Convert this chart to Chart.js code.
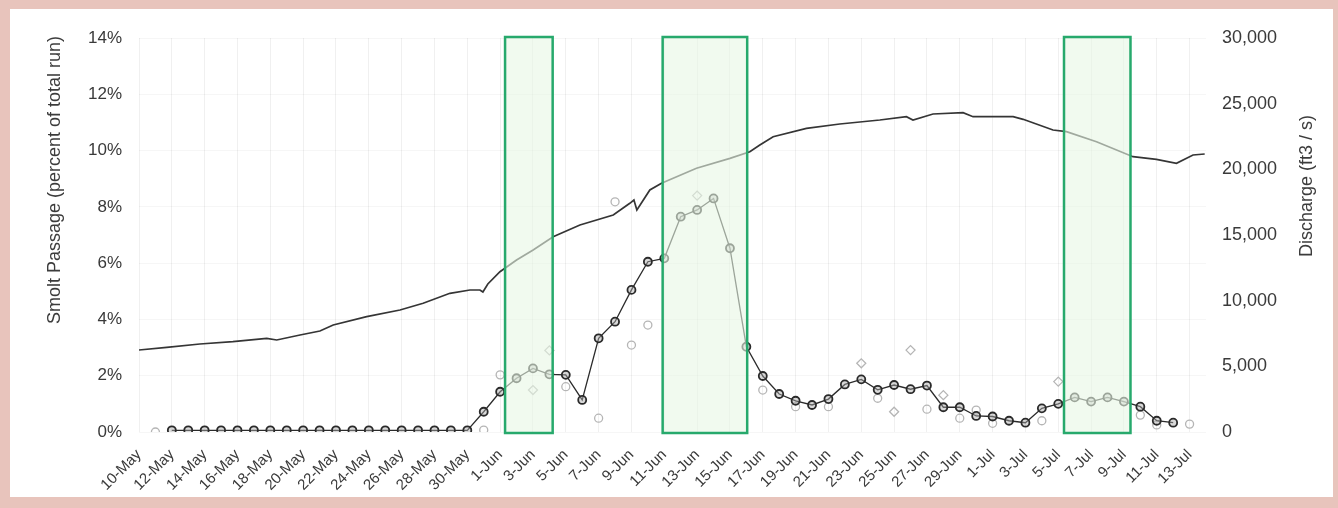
<!DOCTYPE html>
<html>
<head>
<meta charset="utf-8">
<script src="https://cdn.jsdelivr.net/npm/chart.js@4.4.1/dist/chart.umd.min.js"></script>
<style>
  html, body { margin: 0; padding: 0; background: #ffffff; }
  #wrap { width: 1338px; height: 508px; position: relative; }
</style>
</head>
<body>
<div id="wrap"><canvas id="chart" width="1338" height="508"></canvas></div>
<script>
// Season days are counted from 10-May (day 0) to 14-Jul (day 65).
const tickDays = [0,2,4,6,8,10,12,14,16,18,20,22,24,26,28,30,32,34,36,38,40,42,44,46,48,50,52,54,56,58,60,62,64];
const tickLabels = ['10-May','12-May','14-May','16-May','18-May','20-May','22-May','24-May','26-May','28-May','30-May',
  '1-Jun','3-Jun','5-Jun','7-Jun','9-Jun','11-Jun','13-Jun','15-Jun','17-Jun','19-Jun','21-Jun','23-Jun','25-Jun','27-Jun','29-Jun',
  '1-Jul','3-Jul','5-Jul','7-Jul','9-Jul','11-Jul','13-Jul'];

// Daily smolt passage (percent of total run), 12-May .. 12-Jul
const passageFirstDay = 2;
const passagePct = [0.06,0.06,0.06,0.06,0.06,0.06,0.06,0.06,0.06,0.06,0.06,0.06,0.06,0.06,0.06,0.06,0.06,0.06,0.06,
  0.72,1.43,1.91,2.26,2.05,2.03,1.14,3.33,3.92,5.05,6.05,6.17,7.65,7.89,8.30,6.53,3.03,
  1.99,1.35,1.11,0.96,1.17,1.69,1.87,1.50,1.67,1.52,1.65,0.88,0.88,0.57,0.55,0.40,0.33,
  0.84,1.00,1.23,1.08,1.23,1.08,0.90,0.40,0.33];

// Comparison years (light markers)
const compCircleDays = [1,21,22,26,28,29,30,31,38,40,42,45,48,50,51,52,55,61,62,64];
const compCirclePct  = [0.0,0.07,2.03,1.61,0.49,8.18,3.09,3.80,1.49,0.90,0.90,1.20,0.81,0.49,0.78,0.31,0.40,0.60,0.25,0.28];
const compDiamondDays = [24,25,34,44,46,47,49,56];
const compDiamondPct  = [1.49,2.90,8.40,2.44,0.72,2.91,1.31,1.79];

// River discharge (ft3/s)
const dischargeDays = [0,1.69,3.71,5.72,7.78,8.39,9.81,11.02,11.83,13.87,15.9,17.31,18.94,20.16,20.77,20.95,21.25,21.99,
  23.0,24.01,25.23,26.86,28.89,29.9,30.15,30.33,31.12,31.83,33.96,36.0,37.21,37.82,38.63,40.66,42.69,45.13,46.75,47.15,
  48.37,50.2,50.81,53.25,53.86,55.68,56.5,58.33,60.55,61.98,63.2,64.21,64.92];
const dischargeCfs = [6243,6449,6700,6876,7134,7005,7386,7690,8147,8779,9289,9799,10561,10812,10812,10660,11269,12205,
  13096,13857,14870,15761,16522,17413,17664,16903,18426,18936,20078,20839,21342,21852,22484,23124,23451,23756,24007,23756,
  24213,24312,24007,24007,23809,22994,22865,22103,20961,20763,20459,21091,21167];

// Highlighted sampling windows (season days)
const windowStart = [22.3, 31.9, 56.35];
const windowEnd   = [25.2, 37.05, 60.4];

const FONT = '"Liberation Sans", Arial, sans-serif';

const passageData = passagePct.map((v, i) => ({ x: passageFirstDay + i, y: v }));
const circleData = compCircleDays.map((d, i) => ({ x: d, y: compCirclePct[i] }));
const diamondData = compDiamondDays.map((d, i) => ({ x: d, y: compDiamondPct[i] }));
const dischargeData = dischargeDays.map((d, i) => ({ x: d, y: dischargeCfs[i] }));

const framePlugin = {
  id: 'frame',
  beforeDraw(chart) {
    const ctx = chart.ctx;
    ctx.save();
    ctx.fillStyle = '#e8c4bc';
    ctx.fillRect(0, 0, chart.width, chart.height);
    ctx.fillStyle = '#ffffff';
    ctx.fillRect(10, 9, 1323, 488);
    ctx.restore();
  }
};

const windowsPlugin = {
  id: 'windows',
  afterDatasetsDraw(chart) {
    const ctx = chart.ctx;
    const xs = chart.scales.x;
    const top = chart.chartArea.top - 1;
    const bottom = chart.chartArea.bottom + 1;
    ctx.save();
    windowStart.forEach((s, i) => {
      const x0 = xs.getPixelForValue(s);
      const x1 = xs.getPixelForValue(windowEnd[i]);
      ctx.fillStyle = 'rgba(232,246,228,0.6)';
      ctx.fillRect(x0, top, x1 - x0, bottom - top);
      ctx.strokeStyle = '#27a96c';
      ctx.lineWidth = 2.5;
      ctx.strokeRect(x0, top, x1 - x0, bottom - top);
    });
    ctx.restore();
  }
};

const titlesPlugin = {
  id: 'titles',
  afterDraw(chart) {
    const ctx = chart.ctx;
    ctx.save();
    ctx.fillStyle = '#3c3c3c';
    ctx.font = '18px ' + FONT;
    ctx.textAlign = 'center';
    ctx.textBaseline = 'middle';
    ctx.translate(55, 180);
    ctx.rotate(-Math.PI / 2);
    ctx.fillText('Smolt Passage (percent of total run)', 0, 0);
    ctx.restore();
    ctx.save();
    ctx.fillStyle = '#3c3c3c';
    ctx.font = '18px ' + FONT;
    ctx.textAlign = 'center';
    ctx.textBaseline = 'middle';
    ctx.translate(1307, 186);
    ctx.rotate(-Math.PI / 2);
    ctx.fillText('Discharge (ft3 / s)', 0, 0);
    ctx.restore();
  }
};

new Chart(document.getElementById('chart'), {
  type: 'scatter',
  data: {
    datasets: [
      {
        label: 'Smolt passage',
        data: passageData,
        yAxisID: 'y',
        showLine: true,
        borderColor: '#2b2b2b',
        borderWidth: 1.3,
        pointRadius: 4,
        pointBorderWidth: 1.8,
        pointBorderColor: '#2a2a2a',
        pointBackgroundColor: 'rgba(170,170,170,0.45)'
      },
      {
        label: 'Discharge',
        data: dischargeData,
        yAxisID: 'y2',
        showLine: true,
        borderColor: '#353535',
        borderWidth: 1.7,
        pointRadius: 0
      },
      {
        label: 'Comparison (circles)',
        data: circleData,
        yAxisID: 'y',
        showLine: false,
        pointRadius: 4,
        pointBorderWidth: 1.3,
        pointBorderColor: '#b5b5b5',
        pointBackgroundColor: 'rgba(255,255,255,0)'
      },
      {
        label: 'Comparison (diamonds)',
        data: diamondData,
        yAxisID: 'y',
        showLine: false,
        pointStyle: 'rectRot',
        pointRadius: 4.5,
        pointBorderWidth: 1.3,
        pointBorderColor: '#b5b5b5',
        pointBackgroundColor: 'rgba(255,255,255,0)'
      }
    ]
  },
  options: {
    responsive: false,
    animation: false,
    events: [],
    layout: { padding: { top: 38, left: 0, right: 0, bottom: 0 } },
    plugins: { legend: { display: false }, tooltip: { enabled: false } },
    scales: {
      x: {
        type: 'linear',
        position: 'bottom',
        min: 0,
        max: 65,
        afterBuildTicks(scale) { scale.ticks = tickDays.map(v => ({ value: v })); },
        afterFit(scale) { scale.height = 76; },
        border: { display: false },
        grid: { color: 'rgba(0,0,0,0.06)', drawTicks: false },
        ticks: {
          autoSkip: false,
          maxRotation: 45,
          minRotation: 45,
          padding: 14,
          color: '#3a3a3a',
          font: { family: FONT, size: 15 },
          callback: (v, i) => tickLabels[i]
        }
      },
      y: {
        position: 'left',
        min: 0,
        max: 14,
        afterFit(scale) { scale.width = 139; },
        border: { display: false },
        grid: { color: 'rgba(0,0,0,0.035)', drawTicks: false },
        ticks: {
          stepSize: 2,
          padding: 17,
          color: '#3a3a3a',
          font: { family: FONT, size: 17 },
          callback: v => v + '%'
        }
      },
      y2: {
        position: 'right',
        min: 0,
        max: 30000,
        afterFit(scale) { scale.width = 132; },
        border: { display: false },
        grid: { display: false, drawTicks: false },
        ticks: {
          stepSize: 5000,
          padding: 16,
          color: '#3a3a3a',
          font: { family: FONT, size: 18 },
          callback: v => v.toLocaleString('en-US')
        }
      }
    }
  },
  plugins: [framePlugin, windowsPlugin, titlesPlugin]
});
</script>
</body>
</html>
